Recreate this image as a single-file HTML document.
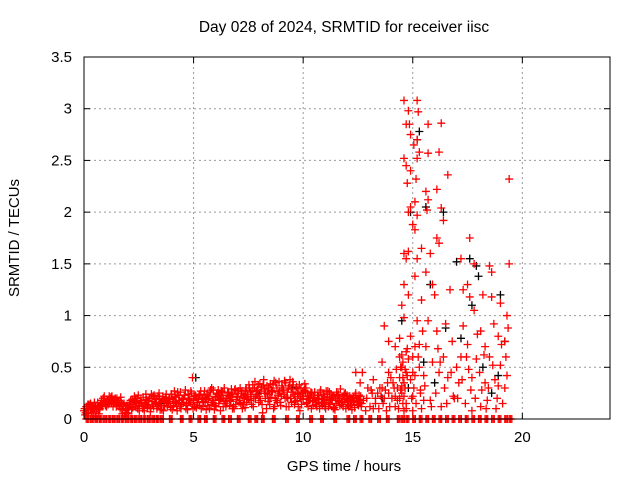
<!DOCTYPE html>
<html><head><meta charset="utf-8"><style>
body{margin:0;background:#fff;}
svg{display:block;font-family:"Liberation Sans",sans-serif;}
</style></head><body>
<svg id="chart" width="640" height="480">
<rect width="640" height="480" fill="#fff"/>
<text x="344" y="32" font-size="15.5" text-anchor="middle">Day 028 of 2024, SRMTID for receiver iisc</text>
<text x="344" y="471" font-size="15" text-anchor="middle">GPS time / hours</text>
<text transform="translate(19,238) rotate(-90)" font-size="15" text-anchor="middle">SRMTID / TECUs</text>
<g id="grid"></g><g id="ticks"></g><g id="marks"></g>
<rect x="84" y="57" width="526" height="362" fill="none" stroke="#000"/>
</svg>
<script>
const xTicks=[0,5,10,15,20];
const yTicks=[0,0.5,1,1.5,2,2.5,3,3.5];
const yTickLabels=["0","0.5","1","1.5","2","2.5","3","3.5"];
const lowStep=0.1;
const lowAY=[0.08,0.12,0.05,0.15,0.1,0.07,0.13,0.09,0.18,0.2,0.16,0.14,0.19,
0.17,0.15,0.2,0.18,0.16,0.12,0.08,0.1,0.14,0.19,0.22,0.17,0.13,
0.18,0.21,0.15,0.11,0.2,0.17,0.23,0.19,0.14,0.16,0.22,0.18,0.12,
0.2,0.24,0.17,0.21,0.15,0.26,0.19,0.23,0.13,0.2,0.25,0.18,0.22,
0.16,0.24,0.2,0.27,0.19,0.22,0.14,0.28,0.21,0.25,0.18,0.23,0.3,
0.2,0.26,0.17,0.24,0.29,0.21,0.18,0.27,0.23,0.3,0.19,0.26,0.33,
0.36,0.28,0.22,0.31,0.38,0.25,0.17,0.34,0.27,0.12,0.3,0.36,0.22,
0.28,0.35,0.2,0.38,0.26,0.14,0.31,0.24,0.3,0.19,0.27,0.22,0.18,
0.25,0.2,0.16,0.23,0.28,0.19,0.14,0.21,0.26,0.18,0.22,0.15,0.24,
0.29,0.2,0.17,0.23,0.19,0.14,0.21,0.25,0.18,0.16];
const lowBY=[0.04,0.1,0.13,0.06,0.11,0.02,0.09,0.15,0.12,0.17,0.19,0.22,0.15,
0.15,0.18,0.13,0.1,0.05,0.03,0.06,0.12,0.16,0.14,0.2,0.1,0.15,
0.13,0.08,0.19,0.14,0.1,0.22,0.16,0.12,0.2,0.09,0.17,0.24,0.15,
0.11,0.19,0.22,0.08,0.18,0.14,0.2,0.1,0.24,0.16,0.4,0.12,0.19,
0.23,0.1,0.17,0.21,0.13,0.26,0.18,0.09,0.24,0.15,0.2,0.12,0.17,
0.25,0.13,0.22,0.1,0.19,0.27,0.15,0.21,0.11,0.24,0.3,0.14,0.2,
0.27,0.33,0.18,0.06,0.25,0.32,0.2,0.28,0.1,0.35,0.23,0.16,0.3,
0.37,0.21,0.12,0.29,0.33,0.17,0.25,0.08,0.22,0.28,0.15,0.2,0.26,
0.13,0.18,0.23,0.1,0.2,0.16,0.27,0.12,0.19,0.22,0.09,0.18,0.2,
0.14,0.22,0.1,0.18,0.13,0.2,0.11,0.17,0.23,0.12];
const lowCY=[0.1,0.06,0.14,0.09,0.03,0.12,0.16,0.1,0.14,0.22,0.12,0.17,0.21,
0.12,0.2,0.16,0.14,0.09,0.15,0.1,0.05,0.18,0.11,0.16,0.2,0.08,
0.16,0.12,0.24,0.18,0.07,0.14,0.2,0.1,0.25,0.13,0.08,0.21,0.17,
0.15,0.09,0.27,0.12,0.23,0.1,0.16,0.28,0.09,0.18,0.14,0.22,0.11,
0.2,0.27,0.12,0.16,0.24,0.1,0.3,0.18,0.12,0.28,0.08,0.26,0.15,
0.17,0.22,0.29,0.12,0.14,0.25,0.3,0.1,0.2,0.16,0.33,0.22,0.12,
0.2,0.24,0.34,0.14,0.29,0.1,0.3,0.21,0.33,0.2,0.16,0.27,0.32,
0.24,0.12,0.3,0.2,0.36,0.22,0.18,0.33,0.14,0.25,0.3,0.12,0.21,
0.17,0.26,0.12,0.2,0.15,0.24,0.1,0.27,0.14,0.2,0.11,0.26,0.17,
0.2,0.12,0.25,0.14,0.22,0.09,0.16,0.2,0.13,0.22];
const lowDY=[0.06,0.14,0.09,0.12,0.16,0.09,0.05,0.14,0.2,0.13,0.18,0.15,0.22,
0.19,0.12,0.16,0.21,0.14,0.06,0.13,0.16,0.09,0.17,0.12,0.23,0.18,
0.1,0.16,0.13,0.2,0.24,0.12,0.15,0.22,0.09,0.19,0.13,0.16,0.2,
0.24,0.13,0.16,0.26,0.12,0.2,0.23,0.15,0.19,0.27,0.1,0.23,0.16,
0.13,0.19,0.23,0.09,0.2,0.28,0.16,0.13,0.22,0.19,0.27,0.2,0.12,
0.23,0.18,0.1,0.28,0.22,0.16,0.25,0.14,0.28,0.22,0.18,0.27,0.3,
0.24,0.16,0.27,0.33,0.2,0.24,0.14,0.26,0.37,0.18,0.25,0.13,0.28,
0.2,0.26,0.32,0.16,0.24,0.29,0.12,0.2,0.26,0.34,0.16,0.23,0.1,
0.21,0.14,0.19,0.26,0.13,0.22,0.18,0.16,0.24,0.1,0.2,0.23,0.13,
0.16,0.24,0.19,0.12,0.2,0.17,0.23,0.14,0.19,0.15];
const zeroX=[0.1,0.3,0.5,0.7,0.9,1.1,1.3,1.5,1.7,1.9,2.1,2.3,2.5,2.7,2.9,3.1,3.3,3.5,3.9,4.4,4.8,5.2,5.5,5.9,6.3,6.6,7.0,7.5,7.8,8.1,8.6,9.2,9.7,10.3,10.8,11.4,12.0,12.3,12.6,13.0,13.4,13.8,14.3,14.5,14.7,15.0,15.3,15.6,15.9,16.2,16.5,16.8,17.1,17.4,17.7,18.0,18.3,18.6,18.9,19.2,19.4];
const burstX=[14.6,15.2,15.25,14.8,14.7,14.85,15.7,16.3,14.9,15.2,14.6,15.05,15.3,15.7,16.2,15.2,14.7,14.9,15.15,14.75,15.6,16.1,15.7,15.1,14.9,14.8,15.2,16.3,16.4,15.65,15.0,15.1,16.6,19.4,14.6,14.8,15.4,15.8,16.1,16.2,17.6,14.7,15.2,15.6,17.2,17.8,18.5,18.6,19.4,15.1,15.9,17.5,18.2,14.6,14.8,14.5,15.4,16.0,16.7,17.3,17.6,17.8,18.6,19.0,19.3,14.6,15.2,15.7,16.5,17.3,18.1,18.7,14.4,14.9,15.3,16.1,16.8,17.5,18.3,19.2,13.7,13.9,14.2,14.5,15.0,15.9,16.4,17.0,17.9,18.5,19.0,13.6,13.9,14.1,14.4,14.9,15.5,16.2,17.1,17.7,18.3,18.9,19.3,12.6,12.7,12.9,13.1,13.3,13.5,13.7,13.9,14.2,14.4,14.7,15.0,15.4,15.8,16.3,16.9,17.4,17.7,18.1,18.4,18.8,19.1,19.2,13.2,13.8,14.3,14.5,15.6,16.6,18.9,17.2,13.4,12.4,
14.55,14.65,14.7,14.75,14.6,14.8,14.5,14.55,14.65,14.7,14.45,14.6,14.75,14.5,14.7,14.6,14.4,14.55,14.3,14.45,14.25,14.35,14.15,14.05,13.95,13.85,13.75,13.65,13.55,13.45,13.3,13.15,13.05,12.95,12.85,12.75,13.2,13.6,14.0,14.2,
15.0,15.05,15.1,15.15,15.3,15.35,14.95,15.0,15.1,15.25,15.35,15.45,15.55,15.5,16.05,16.25,16.45,16.55,16.75,17.05,17.25,17.45,17.65,17.85,18.05,18.25,18.45,18.65,18.85,19.05,19.25,19.35,18.15,18.35,18.75,17.95,17.55,16.85,16.15,15.85];
const burstY=[3.08,3.08,2.97,2.98,2.85,2.85,2.85,2.86,2.75,2.7,2.52,2.65,2.58,2.57,2.58,2.52,2.45,2.4,2.32,2.28,2.2,2.22,2.12,2.1,2.05,2.0,1.97,2.04,1.92,2.02,1.88,1.83,2.36,2.32,1.6,1.62,1.65,1.6,1.75,1.7,1.75,1.55,1.55,1.42,1.55,1.5,1.48,1.42,1.5,1.38,1.3,1.3,1.2,1.3,1.2,1.1,1.15,1.2,1.25,1.25,1.18,1.05,1.18,1.12,1.0,0.98,0.95,0.95,0.92,0.9,0.85,0.92,0.78,0.8,0.72,0.85,0.75,0.72,0.7,0.75,0.9,0.75,0.7,0.62,0.6,0.55,0.6,0.5,0.58,0.6,0.52,0.55,0.45,0.35,0.4,0.38,0.42,0.45,0.35,0.4,0.35,0.32,0.42,0.35,0.45,0.2,0.28,0.15,0.3,0.2,0.25,0.12,0.2,0.15,0.22,0.1,0.18,0.12,0.2,0.15,0.08,0.12,0.18,0.1,0.15,0.3,0.1,0.08,0.3,0.5,0.7,0.4,0.8,0.6,0.25,0.45,
0.55,0.48,0.65,0.42,0.35,0.58,0.25,0.15,0.3,0.1,0.5,0.22,0.68,0.32,0.45,0.08,0.6,0.4,0.18,0.28,0.48,0.1,0.3,0.2,0.12,0.35,0.28,0.15,0.22,0.1,0.2,0.25,0.12,0.3,0.08,0.18,0.38,0.3,0.4,0.22,
0.45,0.3,0.7,0.15,0.5,0.28,0.2,0.08,0.42,0.6,0.25,0.85,0.32,0.18,0.25,0.55,0.3,0.15,0.45,0.2,0.38,0.6,0.28,0.2,0.45,0.62,0.3,0.52,0.2,0.72,0.6,0.88,0.28,0.1,0.38,0.82,0.48,0.22,0.68,0.12];
const blackX=[5.1,14.5,15.2,15.6,16.4,15.3,14.9,17.0,17.6,17.9,18.0,19.0,19.2,15.8,16.5,17.2,18.2,18.9,16.0,14.8,3.5,8.0,11.0,9.5,13.6,15.5,17.7,18.6,2.0,6.5];
const blackY=[0.4,0.95,2.7,2.05,2.0,2.78,2.0,1.52,1.55,1.48,1.38,1.2,0.75,1.3,0.88,0.78,0.5,0.42,0.35,0.3,0.15,0.25,0.12,0.3,0.2,0.55,1.1,0.25,0.1,0.2];

const X0=84,X1=610,Y0=419,Y1=57,XMAX=24,YMAX=3.5;
const sx=v=>X0+v/XMAX*(X1-X0);
const sy=v=>Y0-v/YMAX*(Y0-Y1);
const NS="http://www.w3.org/2000/svg";
const grid=document.getElementById('grid'),ticks=document.getElementById('ticks'),marks=document.getElementById('marks');
function mk(tag,attrs,parent){const e=document.createElementNS(NS,tag);for(const k in attrs)e.setAttribute(k,attrs[k]);parent.appendChild(e);return e;}
xTicks.forEach(t=>{
  const x=sx(t);
  if(t>0){const g=mk('line',{x1:x,x2:x,y1:Y1,y2:Y0,stroke:'#999','stroke-dasharray':'2,3'},grid);
  
  }
  mk('line',{x1:x,x2:x,y1:Y0,y2:Y0-6,stroke:'#000'},ticks);
  mk('line',{x1:x,x2:x,y1:Y1,y2:Y1+6,stroke:'#000'},ticks);
  const l=mk('text',{x:x,y:Y0+23,'font-size':15,'text-anchor':'middle'},ticks);l.textContent=t;
  
  
});
yTicks.forEach((t,i)=>{
  const y=sy(t);
  if(t>0&&t<YMAX){const g=mk('line',{x1:X0,x2:X1,y1:y,y2:y,stroke:'#999','stroke-dasharray':'2,3'},grid);
  
  }
  mk('line',{x1:X0,x2:X0+6,y1:y,y2:y,stroke:'#000'},ticks);
  mk('line',{x1:X1,x2:X1-6,y1:y,y2:y,stroke:'#000'},ticks);
  const l=mk('text',{x:X0-12,y:y+5,'font-size':15,'text-anchor':'end'},ticks);l.textContent=yTickLabels[i];
  
  
});
function cross(x,y,col,name){
  const px=sx(x),py=sy(y);
  const p=mk('path',{d:`M${px-4} ${py}H${px+4}M${px} ${py-4}V${py+4}`,stroke:col,'stroke-width':1.3,fill:'none'},marks);
  
  
}
blackX.forEach((x,i)=>cross(x,blackY[i],'#000','black-point'));
lowAY.forEach((y,i)=>cross(0.0+i*lowStep,y,'#f00','red-point'));
lowBY.forEach((y,i)=>cross(0.05+i*lowStep,y,'#f00','red-point'));
lowCY.forEach((y,i)=>cross(0.025+i*lowStep,y,'#f00','red-point'));
lowDY.forEach((y,i)=>cross(0.075+i*lowStep,y,'#f00','red-point'));
zeroX.forEach(x=>{[0,0.06,0.12].forEach(o=>cross(x+o,0,'#f00','red-point'));});
burstX.forEach((x,i)=>cross(x,burstY[i],'#f00','red-point'));
</script>
</body></html>
